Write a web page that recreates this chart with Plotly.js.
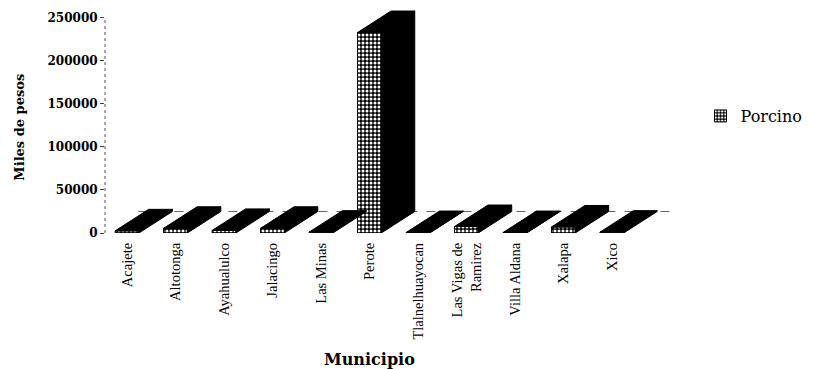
<!DOCTYPE html>
<html>
<head>
<meta charset="utf-8">
<script src="https://cdn.plot.ly/plotly-3.0.1.min.js"></script>
<style>
  html, body { margin: 0; padding: 0; background: #ffffff; }
  #chart { width: 813px; height: 369px; }
</style>
</head>
<body>
<div id="chart"></div>
<script>
// Municipalities (category axis)
const municipios = [
  'Acajete', 'Altotonga', 'Ayahualulco', 'Jalacingo', 'Las Minas', 'Perote',
  'Tlalnelhuayocan', 'Las Vigas de<br>Ramirez', 'Villa Aldana', 'Xalapa', 'Xico'
];

// Pig production value, thousands of pesos
const porcino = [2500, 5500, 3000, 5500, 1000, 233000, 500, 7500, 500, 7000, 1000];

// Value-axis ticks
const yTicks = [0, 50000, 100000, 150000, 200000, 250000];

// Pseudo-3D look: bar width and depth offset (x in category units, y in axis units)
const BAR_W = 0.49;
const DEPTH_X = 0.69;
const DEPTH_Y = 25000;
const X_RANGE = [-0.4545, 11.2];
const Y_RANGE = [0, 265000];

const idx = municipios.map((_, i) => i);

// Build top and side faces of each column as filled polygons
const topX = [], topY = [], sideX = [], sideY = [];
porcino.forEach((v, i) => {
  const x0 = i - BAR_W / 2, x1 = i + BAR_W / 2;
  topX.push(x0, x1, x1 + DEPTH_X, x0 + DEPTH_X, x0, null);
  topY.push(v, v, v + DEPTH_Y, v + DEPTH_Y, v, null);
  sideX.push(x1, x1, x1 + DEPTH_X, x1 + DEPTH_X, x1, null);
  sideY.push(0, v, v + DEPTH_Y, DEPTH_Y, 0, null);
});

const front = {
  type: 'bar',
  name: 'Porcino',
  x: idx,
  y: porcino,
  width: BAR_W,
  marker: {
    color: '#000000',
    line: { color: '#000000', width: 1 },
    pattern: { shape: '.', fgcolor: '#ffffff', bgcolor: '#000000', size: 4, solidity: 0.45 }
  },
  hoverinfo: 'skip'
};

const sides = {
  type: 'scatter', mode: 'lines', x: sideX, y: sideY,
  fill: 'toself', fillcolor: '#000000',
  line: { color: '#000000', width: 1 },
  showlegend: false, hoverinfo: 'skip'
};

const tops = {
  type: 'scatter', mode: 'lines', x: topX, y: topY,
  fill: 'toself', fillcolor: '#000000',
  line: { color: '#000000', width: 1 },
  showlegend: false, hoverinfo: 'skip'
};

const layout = {
  width: 813,
  height: 369,
  margin: { l: 105, r: 131, t: 5, b: 136 },
  paper_bgcolor: '#ffffff',
  plot_bgcolor: '#ffffff',
  showlegend: true,
  legend: {
    x: 1.054, xanchor: 'left', y: 0.513, yanchor: 'middle',
    font: { family: 'DejaVu Serif', size: 16, color: '#000000' },
    bgcolor: 'rgba(0,0,0,0)'
  },
  xaxis: {
    range: X_RANGE,
    tickmode: 'array',
    tickvals: idx,
    ticktext: municipios,
    tickangle: -90,
    ticks: '',
    ticklabelstandoff: 6,
    showgrid: false,
    zeroline: false,
    showline: false,
    tickfont: { family: 'Liberation Serif', size: 14.5, color: '#000000' },
    fixedrange: true
  },
  yaxis: {
    range: Y_RANGE,
    tickmode: 'array',
    tickvals: yTicks,
    tickformat: 'd',
    ticks: 'outside',
    ticklen: 4,
    tickcolor: '#444444',
    showgrid: false,
    zeroline: false,
    showline: false,
    tickfont: { family: 'DejaVu Serif', size: 12, color: '#000000', weight: 'bold' },
    fixedrange: true
  },
  shapes: [
    // value axis line
    { type: 'line', xref: 'paper', yref: 'y', x0: 0, x1: 0, y0: 0, y1: yTicks[yTicks.length - 1],
      line: { color: '#555555', width: 1, dash: 'dot' } },
    // back edge of the floor
    { type: 'line', xref: 'x', yref: 'y', x0: X_RANGE[0] + DEPTH_X, x1: X_RANGE[1], y0: DEPTH_Y, y1: DEPTH_Y,
      line: { color: '#666666', width: 1, dash: 'dash' }, layer: 'below' }
  ],
  annotations: [
    { text: '<b>Municipio</b>', xref: 'paper', yref: 'paper', x: 0.468, y: -0.557,
      xanchor: 'center', yanchor: 'middle', showarrow: false,
      font: { family: 'DejaVu Serif', size: 16, color: '#000000' } },
    { text: '<b>Miles de pesos</b>', xref: 'paper', yref: 'paper', x: -0.151, y: 0.465,
      xanchor: 'center', yanchor: 'middle', textangle: -90, showarrow: false,
      font: { family: 'DejaVu Serif', size: 13, color: '#000000' } }
  ]
};

Plotly.newPlot('chart', [front, sides, tops], layout, { displayModeBar: false, staticPlot: true });
</script>
</body>
</html>
